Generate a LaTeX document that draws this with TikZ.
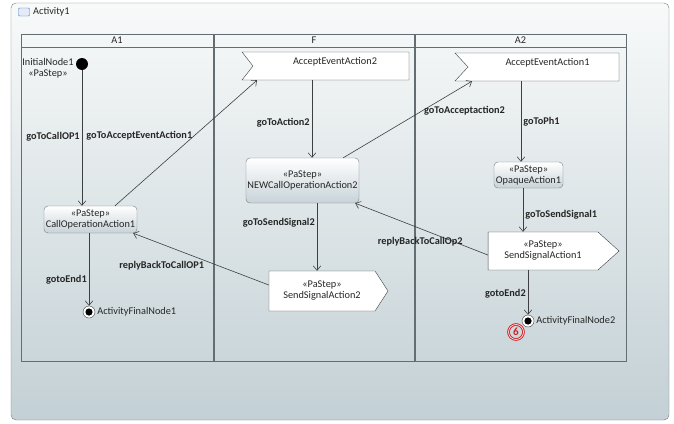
\documentclass[tikz,border=0pt]{standalone}
\usepackage{fontspec}
\setmainfont{Carlito}
\usepackage{tikz}
\usetikzlibrary{arrows.meta,shapes,positioning}
\definecolor{frametop}{RGB}{248,250,250}
\definecolor{framebot}{RGB}{195,208,213}
\definecolor{lanegray}{RGB}{100,110,114}
\definecolor{boxgray}{RGB}{115,124,128}
\definecolor{boxbot}{RGB}{200,211,216}
\definecolor{edgegray}{RGB}{60,64,66}
\definecolor{iconblue}{RGB}{70,120,200}
\definecolor{markred}{RGB}{200,35,40}
\tikzset{
  basic/.style  = {font=\fontsize{10.3}{11}\selectfont, text=black!85, inner sep=2pt},
  frame/.style  = {draw=boxgray, rounded corners=5pt, top color=frametop, bottom color=framebot},
  lane/.style   = {draw=lanegray, line width=1pt},
  action/.style = {basic, draw=boxgray, rounded corners=4pt, top color=white,
                   bottom color=boxbot, align=center, inner sep=0pt},
  accept/.style = {basic, shape=signal, signal from=west, signal to=nowhere, draw=edgegray,
                   fill=white, align=center, minimum height=28pt, inner sep=0pt},
  send/.style   = {basic, shape=signal, signal to=east, draw=edgegray, fill=white,
                   align=center, inner sep=0pt},
  start/.style  = {circle, fill=black, minimum size=12pt, inner sep=0pt},
  final/.style  = {circle, draw=edgegray, fill=white, minimum size=12pt, inner sep=0pt,
                   path picture={\fill[black] (path picture bounding box.center) circle (3.6pt);}},
  flow/.style   = {->, draw=edgegray, line width=0.6pt},
  elabel/.style = {basic, font=\fontsize{10.3}{11}\selectfont\bfseries},
  badge/.style  = {circle, draw=markred, double=red!15, double distance=0.8pt, line width=0.9pt,
                   text=markred, font=\fontsize{11}{11}\selectfont\bfseries, minimum size=15pt, inner sep=0pt}
}
\begin{document}
\begin{tikzpicture}[x=1pt, y=-1pt, >={Straight Barb[length=4.5pt,width=7.5pt]}]
\useasboundingbox (0,0) rectangle (674,423);

% activity frame and its partitions
\draw[frame] (11,3) rectangle (669,420);
\node[draw=iconblue, fill=iconblue!15, rounded corners=1pt, minimum width=11pt,
      minimum height=8pt, inner sep=0pt] (icon) at (24,12) {};
\node[basic, anchor=west] (act) at (31,12) {Activity1};
\foreach \l/\r/\name in {21/213/A1,214/414/F,415/626/A2} {
  \draw[lane] (\l,34) rectangle (\r,361);
  \draw[lane] (\l,47) -- (\r,47);
  \node[basic] (h\name) at ({(\l+\r)/2},40.5) {\name};
}

% partition A1
\node[start, label={[basic, align=center, yshift=-4pt]left:InitialNode1\\«PaStep»}] (init) at (82,64) {};
\node[action, minimum width=93pt, minimum height=27pt] (ca1) at (90.5,219.5) {«PaStep»\\CallOperationAction1};
\node[final, label={[basic]right:ActivityFinalNode1}] (fin1) at (89,312) {};

% partition F
\node[accept, minimum width=167pt, signal pointer angle=104] (ae2) at (331,66) {\hspace*{8pt}AcceptEventAction2\\\mbox{}};
\node[action, minimum width=113pt, minimum height=45pt] (nc2) at (302.5,180.5) {«PaStep»\\NEWCallOperationAction2};
\node[send, minimum width=119pt, minimum height=40pt, signal pointer angle=114] (ss2) at (322,291) {«PaStep»\\SendSignalAction2};

% partition A2
\node[accept, minimum width=164pt, signal pointer angle=94] (ae1) at (543.5,67) {\hspace*{8pt}AcceptEventAction1\\\mbox{}};
\node[action, minimum width=69pt, minimum height=26pt] (oa1) at (528.5,175) {«PaStep»\\OpaqueAction1};
\node[send, minimum width=131pt, minimum height=38pt, signal pointer angle=84] (ss1) at (543,251) {«PaStep»\\SendSignalAction1};
\node[final, label={[basic]right:ActivityFinalNode2}] (fin2) at (528,321) {};
\node[badge] (m6) at (516,332) {6};

% control flows
\draw[flow] (init) -- (init |- ca1.north) node[elabel, pos=0.49, left] {goToCallOP1};
\draw[flow] ([xshift=24.5pt]ca1.north) -- ([xshift=-74pt]ae2.south) node[elabel, pos=0.56, left] {goToAcceptEventAction1};
\draw[flow] (fin1 |- ca1.south) -- (fin1) node[elabel, pos=0.64, left] {gotoEnd1};
\draw[flow] ([xshift=-19pt]ae2.south) -- ([xshift=-19pt]ae2.south |- nc2.north) node[elabel, pos=0.55, left] {goToAction2};
\draw[flow] ([xshift=-16pt]nc2.north east) -- ([xshift=-71.5pt]ae1.south) node[elabel, pos=0.61, right] {goToAcceptaction2};
\draw[flow] ([xshift=14.5pt]nc2.south) -- ([xshift=14.5pt]nc2.south |- ss2.north) node[elabel, pos=0.29, left] {goToSendSignal2};
\draw[flow] ([yshift=6pt]ss2.west) -- ([xshift=-4pt]ca1.south east) node[elabel, pos=0.79, below=15pt] {replyBackToCallOP1};
\draw[flow] ([xshift=-22.5pt]ae1.south) -- ([xshift=-22.5pt]ae1.south |- oa1.north) node[elabel, pos=0.5, right] {goToPh1};
\draw[flow] ([xshift=-5.5pt]oa1.south) -- ([xshift=-5.5pt]oa1.south |- ss1.north) node[elabel, pos=0.61, right] {goToSendSignal1};
\draw[flow] ([yshift=-4pt]ss1.west) -- ([xshift=-4pt]nc2.south east) node[elabel, pos=0.51, below=6pt] {replyBackToCallOp2};
\draw[flow] (fin2 |- ss1.south) -- (fin2) node[elabel, pos=0.53, left] {gotoEnd2};

\end{tikzpicture}
\end{document}
